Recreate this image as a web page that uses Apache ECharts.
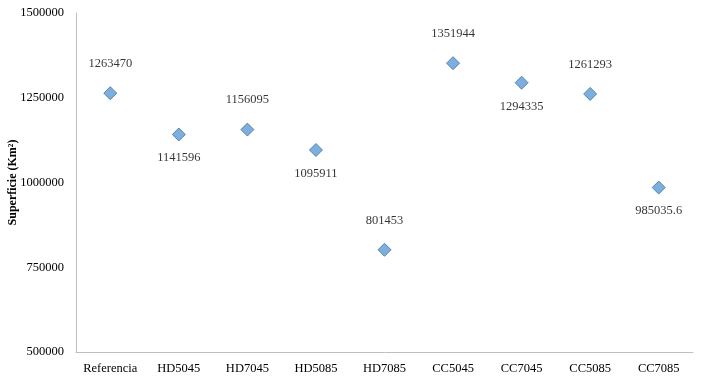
<!DOCTYPE html>
<html><head><meta charset="utf-8">
<script src="https://cdn.jsdelivr.net/npm/echarts@6/dist/echarts.min.js"></script>
<style>html,body{margin:0;padding:0;background:#fff}#c{width:704px;height:384px}</style>
</head><body><div id="c"></div>
<script>
const categories = ["Referencia","HD5045","HD7045","HD5085","HD7085","CC5045","CC7045","CC5085","CC7085"];
const values = [1263470,1141596,1156095,1095911,801453,1351944,1294335,1261293,985035.6];
const labelTexts = ["1263470","1141596","1156095","1095911","801453","1351944","1294335","1261293","985035.6"];
const labelAbove = [true,false,true,false,true,true,false,true,false];
const yTicks = [500000,750000,1000000,1250000,1500000];

const font = "'Liberation Serif','Times New Roman',serif";
const data = values.map((v,i)=>({
  value: v,
  label: {
    show: true,
    formatter: labelTexts[i],
    position: labelAbove[i] ? 'top' : 'bottom',
    distance: labelAbove[i] ? 16 : 10
  }
}));
const chart = echarts.init(document.getElementById('c'), null, {renderer:'canvas'});
chart.setOption({
  animation: false,
  grid: {left: 76, right: 11, top: 13, bottom: 32, containLabel: false, outerBoundsMode: 'none'},
  xAxis: {
    type: 'category', data: categories, boundaryGap: true,
    axisLine: {lineStyle: {color: '#bfbfbf'}},
    axisTick: {show: false},
    axisLabel: {color: '#000', fontFamily: font, fontSize: 12.5, margin: 10, interval: 0}
  },
  yAxis: {
    type: 'value', min: yTicks[0], max: yTicks[yTicks.length-1], interval: 250000,
    name: 'Superficie (Km²)', nameLocation: 'middle', nameGap: 57, nameMoveOverlap: false,
    nameTextStyle: {color: '#000', fontFamily: font, fontSize: 12, fontWeight: 'bold'},
    axisLine: {show: true, lineStyle: {color: '#bfbfbf'}},
    axisTick: {show: false},
    splitLine: {show: false},
    axisLabel: {color: '#000', fontFamily: font, fontSize: 12.5, margin: 12, formatter: v => String(v)}
  },
  series: [{
    type: 'scatter', data: data,
    symbol: 'diamond', symbolSize: 13,
    itemStyle: {color: '#5b9bd5', borderColor: '#41719c', borderWidth: 1},
    label: {color: '#000', fontFamily: font, fontSize: 12.5}
  }]
});
</script></body></html>
